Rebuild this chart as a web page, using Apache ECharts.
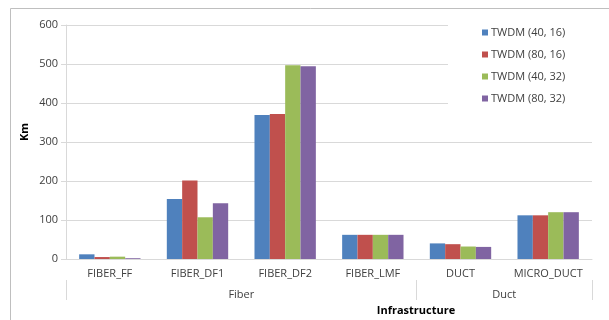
<!DOCTYPE html>
<html><head><meta charset="utf-8">
<script src="https://cdn.jsdelivr.net/npm/echarts@6/dist/echarts.min.js"></script>
<style>html,body{margin:0;padding:0;background:#fff}#c{width:609px;height:320px}</style>
</head><body><div id="c"></div>
<script>
const categories = ["FIBER_FF","FIBER_DF1","FIBER_DF2","FIBER_LMF","DUCT","MICRO_DUCT"];
const groups = ["Fiber","Duct"];
const groupSizes = [4,2];
const seriesNames = ["TWDM (40, 16)","TWDM (80, 16)","TWDM (40, 32)","TWDM (80, 32)"];
const s40_16 = [12,154,369,62,40,112];
const s80_16 = [5,201,372,62,38,112];
const s40_32 = [6,107,497,62,32,120];
const s80_32 = [2,143,494,62,31,120];
const colors = ["#4f81bd","#c0504d","#9bbb59","#8064a2"];
const yTicks = {min:0,max:600,interval:100};

const font = "'Open Sans', 'Liberation Sans', sans-serif";
const chart = echarts.init(document.getElementById('c'));
const data = [s40_16,s80_16,s40_32,s80_32];
const bounds=[0]; groupSizes.forEach(s=>bounds.push(bounds[bounds.length-1]+s));
const centers = groupSizes.map((s,i)=>bounds[i]+s/2);
chart.setOption({
  animation:false,
  color:colors,
  textStyle:{fontFamily:font},
  grid:{left:66,right:17,top:25,bottom:61,containLabel:false},
  legend:{
    orient:'vertical', left:482, top:27,
    itemWidth:6,itemHeight:6,itemGap:11,
    padding:0,
    icon:'rect', z:10,
    textStyle:{fontSize:11,color:'#404040',fontFamily:font,padding:[0,0,0,-2]},
    data:seriesNames
  },
  xAxis:[{
    type:'category', data:categories,
    axisLine:{lineStyle:{color:'#d9d9d9'}},
    axisTick:{length:21,lineStyle:{color:'#d9d9d9'}},
    axisLabel:{interval:0,fontSize:11,color:'#404040',margin:9,fontFamily:font},
    splitLine:{show:false}
  },{
    type:'value', min:0, max:categories.length, position:'bottom', offset:21,
    axisLine:{show:false},
    axisTick:{show:true,customValues:bounds,length:20,lineStyle:{color:'#d9d9d9'}},
    axisLabel:{customValues:centers,fontSize:11,color:'#404040',margin:9,fontFamily:font,
      formatter:v=>{const i=centers.indexOf(v);return i>=0?groups[i]:'';}},
    splitLine:{show:false}
  }],
  yAxis:{
    type:'value', min:yTicks.min, max:yTicks.max, interval:yTicks.interval,
    axisLine:{show:true,lineStyle:{color:'#d9d9d9'}},
    axisTick:{show:true,length:5,lineStyle:{color:'#d9d9d9'}},
    axisLabel:{fontSize:11,color:'#404040',margin:8,fontFamily:font},
    splitLine:{lineStyle:{color:'#d9d9d9'}}
  },
  graphic:[
    {type:'rect',shape:{x:10.5,y:8.5,width:620,height:330},style:{fill:'none',stroke:'#bfbfbf',lineWidth:1},z:-10,silent:true},
    {type:'rect',shape:{x:448,y:20,width:146,height:108},style:{fill:'#fff'},z:3,silent:true},
    {type:'text',x:25,y:132,rotation:Math.PI/2,style:{text:'Km',font:'bold 11px '+font,fill:'#000',textAlign:'center',textVerticalAlign:'middle'},z:10},
    {type:'text',x:416,y:311,style:{text:'Infrastructure',font:'bold 11px '+font,fill:'#000',textAlign:'center',textVerticalAlign:'middle'},z:10}
  ],
  series:seriesNames.map((n,i)=>({
    name:n,type:'bar',data:data[i],barGap:'0%',barCategoryGap:'30%',
    itemStyle:{color:colors[i]}
  }))
});
</script></body></html>
